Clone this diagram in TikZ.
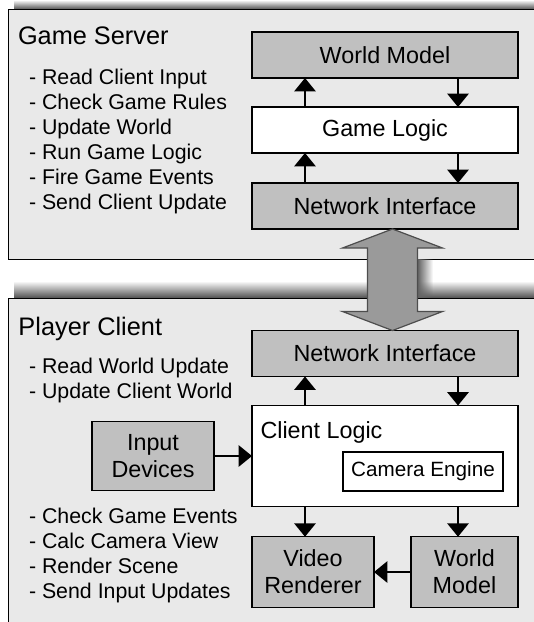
\documentclass[tikz,border=0pt]{standalone}
\usepackage{fontspec}
\setmainfont{Liberation Sans}
\usetikzlibrary{
  positioning, arrows.meta, calc, fadings
}
\usepackage{xcolor}
\definecolor{panelgray}{HTML}{E9E9E9}
\definecolor{boxgray}{HTML}{C0C0C0}
\definecolor{pipegray}{HTML}{9A9A9A}
\definecolor{pipeedge}{HTML}{4D4D4D}

\begin{document}
\begin{tikzpicture}[
      x=0.75pt, y=-0.75pt,
      every node/.style={inner sep=0pt, outer sep=0pt},
      panel/.style={draw, line width=1.1pt, fill=panelgray},
      module/.style={draw, line width=1.1pt, fill=#1, align=center,
                     minimum width=199.5pt, minimum height=34.5pt,
                     font=\fontsize{17.5}{20.3}\selectfont},
      module/.default=boxgray,
      title/.style={anchor=base west, font=\fontsize{19}{22}\selectfont},
      tasks/.style={anchor=north west, align=left, font=\fontsize{16}{18.75}\selectfont},
      flow/.style={-{Triangle[width=16pt, length=10pt]}, line width=1.1pt},
      pipe/.style={fill=pipegray, draw=pipeedge, line width=0.9pt, line join=miter},
    ]
    \useasboundingbox (0,0) rectangle (534,622);
    \clip (0,0) rectangle (534,622);

    \shade[top color=white, bottom color=black!70] (14,0) rectangle (545,9.5);
    \shade[top color=white, bottom color=black!70] (14,281) rectangle (545,298.3);
    \draw[panel] (8.5,9.5) rectangle (545,259.3);
    \draw[panel] (8.5,298.3) rectangle (545,640);
    \fill[black!60, path fading=east] (418,259.3) rectangle (433,298.3);

    \node[title] (srvT) at (18,44) {Game Server};
    \node[tasks] (srvJobs) at (29,69.5)
      {- Read Client Input\\- Check Game Rules\\- Update World\\- Run Game Logic\\- Fire Game Events\\- Send Client Update};

    \node[module]       (sWM) at (385,55)  {World Model};
    \node[module=white] (sGL) at (385,130) {Game Logic};
    \node[module]       (sNI) at (385,206) {Network Interface};

    \node[title] (cliT) at (18.5,335) {Player Client};
    \node[tasks] (cliJobsA) at (29,358.5)
      {- Read World Update\\- Update Client World};
    \node[tasks] (cliJobsB) at (29,508.5)
      {- Check Game Events\\- Calc Camera View\\- Render Scene\\- Send Input Updates};

    \node[module]       (cNI) at (385,353.5) {Network Interface};
    \node[module=white, minimum height=75.75pt] (cCL) at (385,456) {};
    \node[anchor=base west, font=\fontsize{17.5}{20.3}\selectfont] (cCLt) at (260.5,438.5) {Client Logic};
    \node[module=white, minimum width=120pt, minimum height=29.25pt,
          font=\fontsize{15.5}{18}\selectfont] (cam) at (423,471.5) {Camera Engine};
    \node[module, minimum width=91.5pt, minimum height=51.75pt] (inp) at (153,456) {Input\\Devices};
    \node[module, minimum width=91.5pt, minimum height=52.9pt] (vid) at (313,572) {Video\\Renderer};
    \node[module, minimum width=80.25pt, minimum height=52.9pt] (cWM) at (464.5,572) {World\\Model};

    \coordinate (upx) at (305,0);
    \coordinate (dnx) at (458,0);
    \draw[flow] (sGL.north -| upx) -- (sWM.south -| upx);
    \draw[flow] (sWM.south -| dnx) -- (sGL.north -| dnx);
    \draw[flow] (sNI.north -| upx) -- (sGL.south -| upx);
    \draw[flow] (sGL.south -| dnx) -- (sNI.north -| dnx);
    \draw[flow] (cCL.north -| upx) -- (cNI.south -| upx);
    \draw[flow] (cNI.south -| dnx) -- (cCL.north -| dnx);
    \draw[flow] (inp.east) -- (inp.east -| cCL.west);
    \draw[flow] (cCL.south -| upx) -- (vid.north -| upx);
    \draw[flow] (cCL.south -| dnx) -- (cWM.north -| dnx);
    \draw[flow] (cWM.west) -- (vid.east);

    \coordinate (pt) at ($(sNI.south)+(7.5,0)$);
    \coordinate (pb) at ($(cNI.north)+(7.5,0)$);
    \filldraw[pipe] (pt) -- ($(pt)+(50,19)$) -- ($(pt)+(25,19)$) -- ($(pb)+(25,-19)$)
      -- ($(pb)+(50,-19)$) -- (pb) -- ($(pb)+(-50,-19)$) -- ($(pb)+(-25,-19)$)
      -- ($(pt)+(-25,19)$) -- ($(pt)+(-50,19)$) -- cycle;
  \end{tikzpicture}
\end{document}
